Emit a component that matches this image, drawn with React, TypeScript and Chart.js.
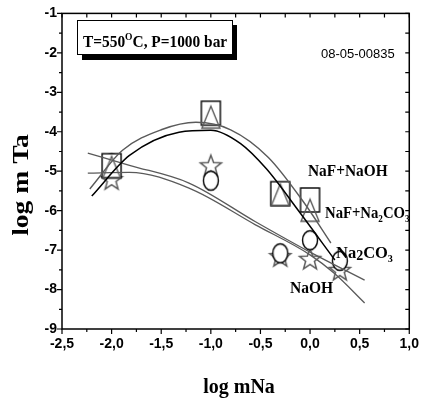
import { useEffect, useRef } from 'react';
import { Chart, registerables } from 'chart.js';

Chart.register(...registerables);

// ---- data ----
const squareX = [-2.0, -1.0, -0.3, 0.0];
const squareY = [-4.86, -3.53, -5.57, -5.73];
const triangleX = [-2.0, -1.0, -0.3, 0.0];
const triangleY = [-4.9, -3.63, -5.6, -5.99];
const starX = [-2.0, -1.0, -0.3, 0.0, 0.3];
const starY = [-5.2, -4.85, -7.15, -7.22, -7.5];
const circleX = [-2.0, -1.0, -0.3, 0.0, 0.3];
const circleY = [-4.8, -5.24, -7.08, -6.75, -7.27];

const fitNaFNaOH_X = [-2.22, -1.89, -1.5, -1.15, -0.8, -0.42, -0.06, 0.21];
const fitNaFNaOH_Y = [-5.45, -4.47, -3.95, -3.76, -3.95, -4.65, -5.8, -6.82];
const fitNaFNa2CO3_X = [-2.2, -1.82, -1.32, -1.0, -0.7, -0.44, -0.12, 0.25];
const fitNaFNa2CO3_Y = [-5.63, -4.6, -4.01, -3.96, -4.3, -4.94, -5.99, -7.25];
const fitNaOH_X = [-2.24, -1.82, -1.22, -0.55, 0.0, 0.55];
const fitNaOH_Y = [-4.54, -4.85, -5.3, -6.28, -7.05, -7.76];
const fitNa2CO3_X = [-2.24, -1.82, -1.22, -0.55, 0.0, 0.25, 0.55];
const fitNa2CO3_Y = [-5.05, -5.03, -5.43, -6.36, -7.12, -7.6, -8.34];

const xMin = -2.5, xMax = 1.0, xStep = 0.5;
const yMin = -9, yMax = -1, yStep = 1;

const GRAY = '#5a5a5a';

const pts = (xs: number[], ys: number[]) => xs.map((x, i) => ({ x, y: ys[i] }));

function mk(w: number, h: number, draw: (c: CanvasRenderingContext2D) => void) {
  const c = document.createElement('canvas');
  c.width = w; c.height = h;
  const ctx = c.getContext('2d')!;
  draw(ctx);
  return c;
}

function makeMarkers() {
  const square = mk(23, 28, (c) => {
    c.fillStyle = '#fff'; c.strokeStyle = '#000'; c.lineWidth = 1.4;
    c.fillRect(2, 2, 19, 24); c.strokeRect(2, 2, 19, 24);
  });
  const triangle = mk(22, 26, (c) => {
    c.strokeStyle = GRAY; c.lineWidth = 1.4;
    c.beginPath(); c.moveTo(11, 2); c.lineTo(20, 24); c.lineTo(2, 24); c.closePath(); c.stroke();
  });
  const star = mk(26, 26, (c) => {
    c.strokeStyle = GRAY; c.lineWidth = 1.5;
    c.beginPath();
    for (let i = 0; i < 10; i++) {
      const r = i % 2 === 0 ? 11 : 4.6;
      const a = -Math.PI / 2 + (i * Math.PI) / 5;
      const px = 13 + r * Math.cos(a), py = 14 + r * Math.sin(a);
      if (i === 0) c.moveTo(px, py); else c.lineTo(px, py);
    }
    c.closePath(); c.stroke();
  });
  const circle = mk(20, 24, (c) => {
    c.fillStyle = '#fff'; c.strokeStyle = '#000'; c.lineWidth = 1.4;
    c.beginPath(); c.ellipse(10, 12, 7.5, 9.5, 0, 0, Math.PI * 2); c.fill(); c.stroke();
  });
  return { square, triangle, star, circle };
}

type Run = { t: string; sub?: boolean; sup?: boolean; scale?: number; dy?: number };

function drawRuns(ctx: CanvasRenderingContext2D, runs: Run[], x: number, y: number, size: number, sx: number, family: string, weight: string) {
  ctx.save();
  ctx.translate(x, y);
  ctx.scale(sx, 1);
  ctx.textBaseline = 'alphabetic';
  ctx.textAlign = 'left';
  let cx = 0;
  for (const r of runs) {
    const s = r.scale ? size * r.scale : r.sub || r.sup ? size * 0.62 : size;
    ctx.font = `${weight} ${s}px ${family}`;
    const dy = r.dy !== undefined ? r.dy : r.sub ? size * 0.25 : r.sup ? -size * 0.4 : 0;
    ctx.fillText(r.t, cx, dy);
    cx += ctx.measureText(r.t).width;
  }
  ctx.restore();
}

function runsWidth(ctx: CanvasRenderingContext2D, runs: Run[], size: number, family: string, weight: string) {
  let w = 0;
  for (const r of runs) {
    const s = r.scale ? size * r.scale : r.sub || r.sup ? size * 0.62 : size;
    ctx.font = `${weight} ${s}px ${family}`;
    w += ctx.measureText(r.t).width;
  }
  return w;
}

const SERIF = '"Liberation Serif", "Times New Roman", serif';
const SANS = '"Liberation Sans", Arial, sans-serif';

const framePlugin = {
  id: 'frameTicks',
  afterDatasetsDraw(chart: any) {
    const { ctx, chartArea, scales } = chart;
    const { left, right, top, bottom } = chartArea;
    const x = scales.x, y = scales.y;
    ctx.save();
    ctx.strokeStyle = '#000';
    ctx.lineWidth = 1.5;
    ctx.strokeRect(left, top, right - left, bottom - top);
    ctx.lineWidth = 1.2;
    ctx.beginPath();
    const nx = Math.round((xMax - xMin) / (xStep / 2));
    for (let i = 0; i <= nx; i++) {
      const v = xMin + (i * xStep) / 2;
      const px = x.getPixelForValue(v);
      const major = i % 2 === 0;
      ctx.moveTo(px, bottom); ctx.lineTo(px, bottom + (major ? 5 : 3));
      ctx.moveTo(px, top); ctx.lineTo(px, top + 4);
    }
    const ny = Math.round((yMax - yMin) / (yStep / 2));
    for (let i = 0; i <= ny; i++) {
      const v = yMin + (i * yStep) / 2;
      const py = y.getPixelForValue(v);
      const major = i % 2 === 0;
      ctx.moveTo(left, py); ctx.lineTo(left - (major ? 5 : 3), py);
      ctx.moveTo(right, py); ctx.lineTo(right - 4, py);
    }
    ctx.stroke();
    ctx.restore();
  },
  afterDraw(chart: any) {
    const { ctx } = chart;
    ctx.save();
    // info box with shadow
    ctx.fillStyle = '#000';
    ctx.fillRect(82, 25, 155, 35);
    ctx.fillStyle = '#fff';
    ctx.fillRect(77, 20, 156, 35);
    ctx.strokeStyle = '#000';
    ctx.lineWidth = 1;
    ctx.strokeRect(77.5, 20.5, 155, 34);
    ctx.fillStyle = '#000';
    drawRuns(ctx, [{ t: 'T=550' }, { t: 'O', sup: true }, { t: 'C, P=1000 bar' }], 83, 47, 17, 0.905, SERIF, 'bold');
    // code
    drawRuns(ctx, [{ t: '08-05-00835' }], 321, 58, 13, 1.0, SANS, 'normal');
    // series labels
    drawRuns(ctx, [{ t: 'NaF+NaOH' }], 308, 176, 16, 0.96, SERIF, 'bold');
    drawRuns(ctx, [{ t: 'NaF+Na' }, { t: '2', sub: true }, { t: 'CO' }, { t: '3', sub: true }], 325, 218, 16, 0.92, SERIF, 'bold');
    drawRuns(ctx, [{ t: 'Na' }, { t: '2', scale: 0.85, dy: 2 }, { t: 'CO' }, { t: '3', sub: true }], 336, 258, 16, 1.03, SERIF, 'bold');
    drawRuns(ctx, [{ t: 'NaOH' }], 290, 293, 16, 0.97, SERIF, 'bold');
    // axis titles
    const xt: Run[] = [{ t: 'log mNa' }];
    const xw = runsWidth(ctx, xt, 20, SERIF, 'bold');
    drawRuns(ctx, xt, 239 - xw / 2, 393, 20, 1.0, SERIF, 'bold');
    const yt: Run[] = [{ t: 'log m Ta' }];
    const ys = 1.15;
    const yw = runsWidth(ctx, yt, 24, SERIF, 'bold') * ys;
    ctx.save();
    ctx.translate(28, 185);
    ctx.rotate(-Math.PI / 2);
    drawRuns(ctx, yt, -yw / 2, 0, 24, ys, SERIF, 'bold');
    ctx.restore();
    ctx.restore();
  },
};

export default function App() {
  const ref = useRef<HTMLCanvasElement | null>(null);
  useEffect(() => {
    document.body.style.margin = '0';
    const m = makeMarkers();
    const lineDs = (xs: number[], ys: number[], color: string, w: number) => ({
      data: pts(xs, ys),
      showLine: true,
      borderColor: color,
      borderWidth: w,
      pointRadius: 0,
      pointHoverRadius: 0,
      fill: false,
      cubicInterpolationMode: 'monotone' as const,
    });
    const markDs = (xs: number[], ys: number[], style: HTMLCanvasElement) => ({
      data: pts(xs, ys),
      showLine: false,
      pointStyle: style,
      pointRadius: 10,
      pointHoverRadius: 10,
      borderWidth: 0,
    });
    const chart = new Chart(ref.current!, {
      type: 'scatter',
      data: {
        datasets: [
          lineDs(fitNaFNaOH_X, fitNaFNaOH_Y, GRAY, 1.4),
          lineDs(fitNaFNa2CO3_X, fitNaFNa2CO3_Y, '#000', 1.5),
          lineDs(fitNaOH_X, fitNaOH_Y, GRAY, 1.3),
          lineDs(fitNa2CO3_X, fitNa2CO3_Y, GRAY, 1.3),
          markDs(triangleX, triangleY, m.triangle),
          markDs(squareX, squareY, m.square),
          markDs(circleX, circleY, m.circle),
          markDs(starX, starY, m.star),
        ] as any,
      },
      options: {
        responsive: false,
        animation: false,
        layout: { padding: { left: 0, right: 13, top: 13, bottom: 0 } },
        plugins: { legend: { display: false }, tooltip: { enabled: false } },
        events: [],
        scales: {
          x: {
            type: 'linear',
            min: xMin,
            max: xMax,
            grid: { display: false, drawTicks: false },
            border: { display: false },
            ticks: {
              stepSize: xStep,
              padding: 7,
              color: '#000',
              font: { family: SANS, weight: 'bold', size: 14 },
              callback: (v: any) => Number(v).toFixed(1).replace('.', ','),
            },
            afterFit: (s: any) => { s.height = 69; },
          },
          y: {
            type: 'linear',
            min: yMin,
            max: yMax,
            grid: { display: false, drawTicks: false },
            border: { display: false },
            ticks: {
              stepSize: yStep,
              padding: 5,
              color: '#000',
              font: { family: SANS, weight: 'bold', size: 14 },
              callback: (v: any) => String(v),
            },
            afterFit: (s: any) => { s.width = 62; },
          },
        },
      } as any,
      plugins: [framePlugin],
    });
    return () => chart.destroy();
  }, []);
  return <canvas ref={ref} width={426} height={398} style={{ display: 'block' }} />;
}
